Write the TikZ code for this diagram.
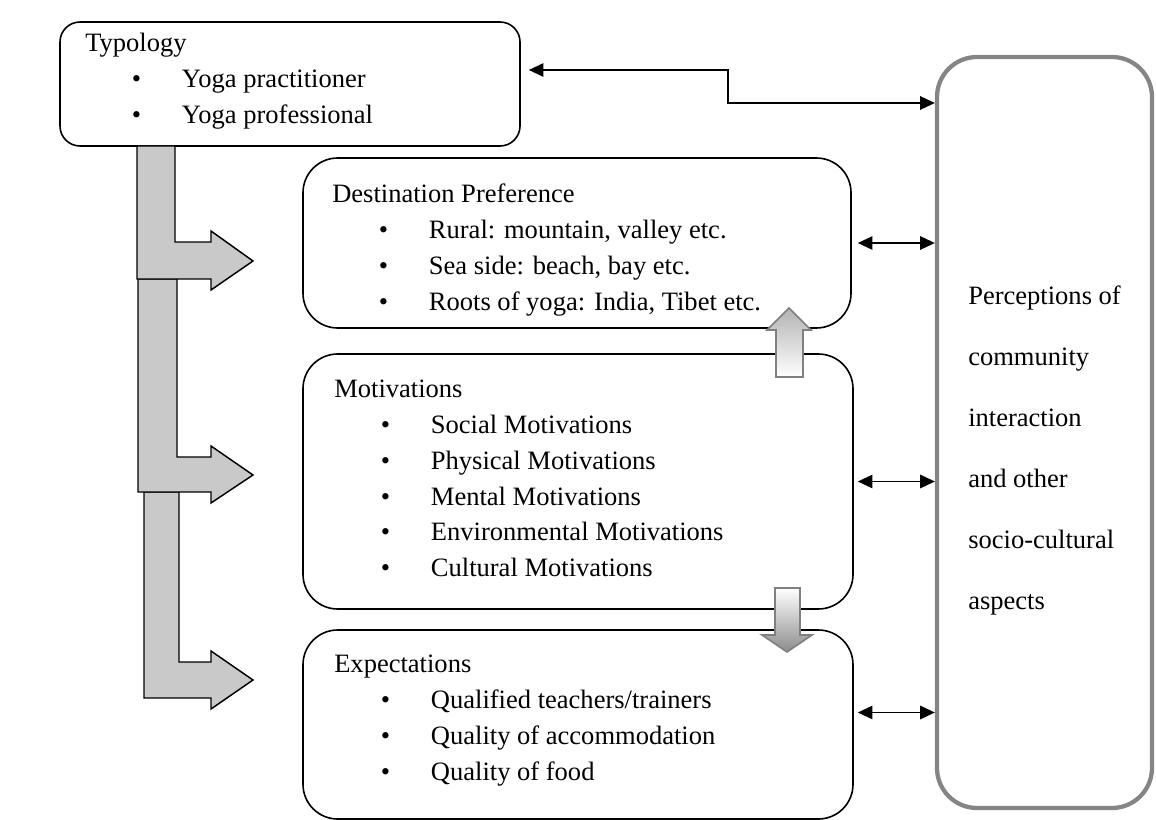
\documentclass[tikz,border=0pt]{standalone}
\usepackage{fontspec}
\setmainfont{Liberation Serif}
\usetikzlibrary{arrows.meta}
\newcommand{\bitem}[1]{\hspace*{35pt}\makebox[37.5pt][l]{\textbullet}#1}
\begin{document}
\begin{tikzpicture}[x=0.75pt,y=-0.75pt,
    box/.style={draw, line width=1.2pt, rounded corners=#1, fill=white},
    wh/.style 2 args={minimum width=#1*0.75pt, minimum height=#2*0.75pt, inner sep=0pt},
    txt/.style={anchor=north west, inner sep=0pt, align=left,
                font=\fontsize{19.9}{26.8}\selectfont},
    larr/.style={draw, fill=black!21, line width=1.1pt, line join=miter},
    con/.style={line width=1.4pt,
                {Triangle[length=11pt,width=10pt]}-{Triangle[length=11pt,width=10pt]}},
    blk/.style={draw=black!50, line width=1.2pt}]
  \path[use as bounding box] (0,0) rectangle (1156,820);
  % boxes
  \node[box=15pt, wh={460}{124}] (typ)  at (290,84)    {};
  \node[box=26pt, wh={548}{170}] (dest) at (577,243)   {};
  \node[box=26pt, wh={550}{255}] (moti) at (578,481.5) {};
  \node[box=26pt, wh={550}{189}] (expe) at (578,724.5) {};
  \node[box=30pt, draw=black!48, line width=3.2pt, wh={215}{751}] (perc) at (1044.5,432.5) {};
  % texts
  \node[txt] (typT)  at (85,33)  {Typology\\\bitem{Yoga practitioner}\\\bitem{Yoga professional}};
  \node[txt] (destT) at (332,184) {Destination Preference\\\bitem{Rural: mountain, valley etc.}\\
    \bitem{Sea side: beach, bay etc.}\\\bitem{Roots of yoga: India, Tibet etc.}};
  \node[txt] (motiT) at (334,380) {Motivations\\\bitem{Social Motivations}\\\bitem{Physical Motivations}\\
    \bitem{Mental Motivations}\\\bitem{Environmental Motivations}\\\bitem{Cultural Motivations}};
  \node[txt] (expeT) at (334,655) {Expectations\\\bitem{Qualified teachers/trainers}\\
    \bitem{Quality of accommodation}\\\bitem{Quality of food}};
  \node[txt, font=\fontsize{19.9}{45.75}\selectfont] (percT) at (968,286)
    {Perceptions of\\community\\interaction\\and other\\socio-cultural\\aspects};
  % L-shaped arrows from typology
  \draw[larr] (144,492) -- (179,492) -- (179,662) -- (211,662) -- (211,651) -- (253,680)
    -- (211,709) -- (211,698) -- (144,698) -- cycle;
  \draw[larr] (138,279) -- (177,279) -- (177,457) -- (211,457) -- (211,446) -- (253,475)
    -- (211,503) -- (211,492) -- (138,492) -- cycle;
  \draw[larr] (137,146) -- (175,146) -- (175,242) -- (211,242) -- (211,231) -- (253,261)
    -- (211,290) -- (211,279) -- (137,279) -- cycle;
  % small block arrows between boxes
  \draw[blk, top color=black!30, bottom color=white] (776,377) -- (776,330) -- (767,330)
    -- (789,308) -- (811,330) -- (803,330) -- (803,377) -- cycle;
  \draw[blk, top color=white, bottom color=black!45] (775,588) -- (800,588) -- (800,635)
    -- (812,635) -- (787,652) -- (762,635) -- (775,635) -- cycle;
  % connectors to the perceptions box
  \coordinate (bend) at (728,86.5);
  \draw[con] ([xshift=6pt,yshift=10.5pt]typ.east) -| (bend) |- (perc.west |- 0,103);
  \draw[con] ([xshift=4.5pt]dest.east) -- (dest.east -| perc.west);
  \draw[con] ([xshift=3pt]moti.east) -- (moti.east -| perc.west);
  \draw[con] ([xshift=3pt,yshift=9pt]expe.east) -- ([yshift=9pt]expe.east -| perc.west);
\end{tikzpicture}
\end{document}
